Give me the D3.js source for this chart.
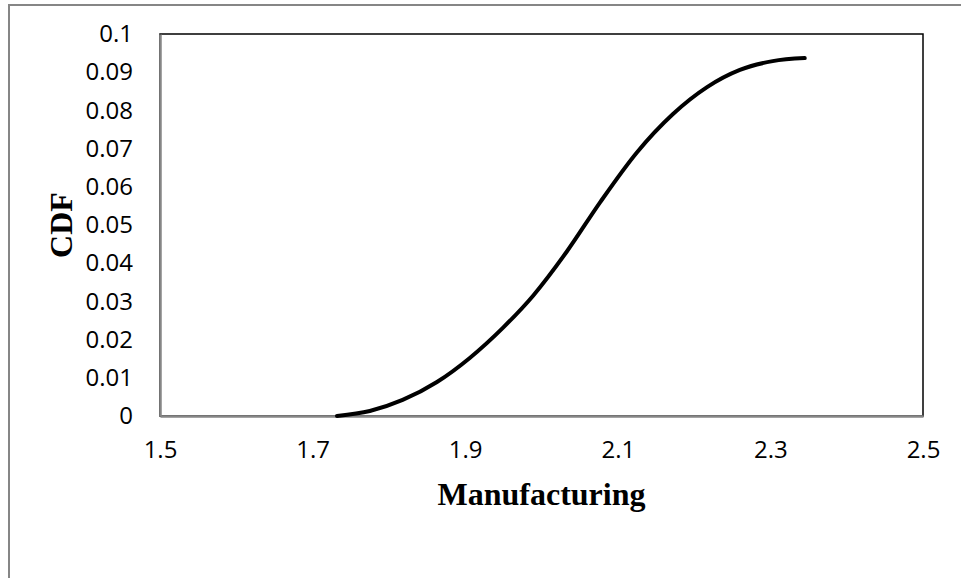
<!DOCTYPE html>
<html>
<head>
<meta charset="utf-8">
<script src="https://cdn.jsdelivr.net/npm/d3@7"></script>
<style>
  body { margin: 0; background: #fff; }
  .tick text { font-family: "Open Sans", "Liberation Sans", sans-serif; font-size: 24px; fill: #000; }
  .title { font-family: "Liberation Serif", "Times New Roman", serif; font-weight: bold; font-size: 32px; }
</style>
</head>
<body>
<div class="chart"></div>
<script>
// Data
const xValues = [1.732, 1.775, 1.818, 1.863, 1.906, 1.950, 1.989, 2.033, 2.077, 2.125, 2.172, 2.217, 2.260, 2.303, 2.345];
const cdfValues = [0, 0.0013, 0.0042, 0.0089, 0.0152, 0.0232, 0.0315, 0.0430, 0.0560, 0.0690, 0.0790, 0.0861, 0.0906, 0.0929, 0.0937];
const xTicks = [1.5, 1.7, 1.9, 2.1, 2.3, 2.5];
const yTicks = [0, 0.01, 0.02, 0.03, 0.04, 0.05, 0.06, 0.07, 0.08, 0.09, 0.1];

const W = 961, H = 578;
const margin = { top: 34, right: 38, bottom: 162, left: 160 };
const width = W - margin.left - margin.right;
const height = H - margin.top - margin.bottom;

const svg = d3.select(".chart").append("svg")
    .attr("width", W)
    .attr("height", H);

// outer chart frame (runs off the right and bottom edge)
svg.append("rect")
    .attr("x", 9).attr("y", 5)
    .attr("width", W + 20).attr("height", H + 20)
    .attr("fill", "none")
    .attr("stroke", "#868686")
    .attr("stroke-width", 2);

const g = svg.append("g")
    .attr("transform", `translate(${margin.left},${margin.top})`);

const x = d3.scaleLinear().domain([1.5, 2.5]).range([0, width]);
const y = d3.scaleLinear().domain([0, 0.1]).range([height, 0]);

// plot area border
g.append("rect")
    .attr("width", width).attr("height", height)
    .attr("fill", "none")
    .attr("stroke", "#000")
    .attr("stroke-width", 1.5);

// axes
const xAxis = g.append("g")
    .attr("transform", `translate(0,${height})`)
    .call(d3.axisBottom(x).tickValues(xTicks).tickSize(0).tickPadding(25).tickFormat(d3.format("")));
xAxis.select(".domain").attr("stroke", "#868686").attr("stroke-width", 2.5);

const yAxis = g.append("g")
    .call(d3.axisLeft(y).tickValues(yTicks).tickSize(0).tickPadding(27).tickFormat(d => d === 0 ? "0" : d3.format("")(+d.toFixed(2))));
yAxis.select(".domain").attr("stroke", "#868686").attr("stroke-width", 2.5);

// curve
const line = d3.line()
    .x((d, i) => x(xValues[i]))
    .y(d => y(d))
    .curve(d3.curveMonotoneX);

g.append("path")
    .datum(cdfValues)
    .attr("fill", "none")
    .attr("stroke", "#000")
    .attr("stroke-width", 4)
    .attr("stroke-linecap", "round")
    .attr("d", line);

// axis titles
svg.append("text")
    .attr("class", "title")
    .attr("x", margin.left + width / 2)
    .attr("y", 505)
    .attr("text-anchor", "middle")
    .text("Manufacturing");

svg.append("text")
    .attr("class", "title")
    .attr("transform", `translate(72,${margin.top + height / 2}) rotate(-90)`)
    .attr("text-anchor", "middle")
    .text("CDF");
</script>
</body>
</html>
